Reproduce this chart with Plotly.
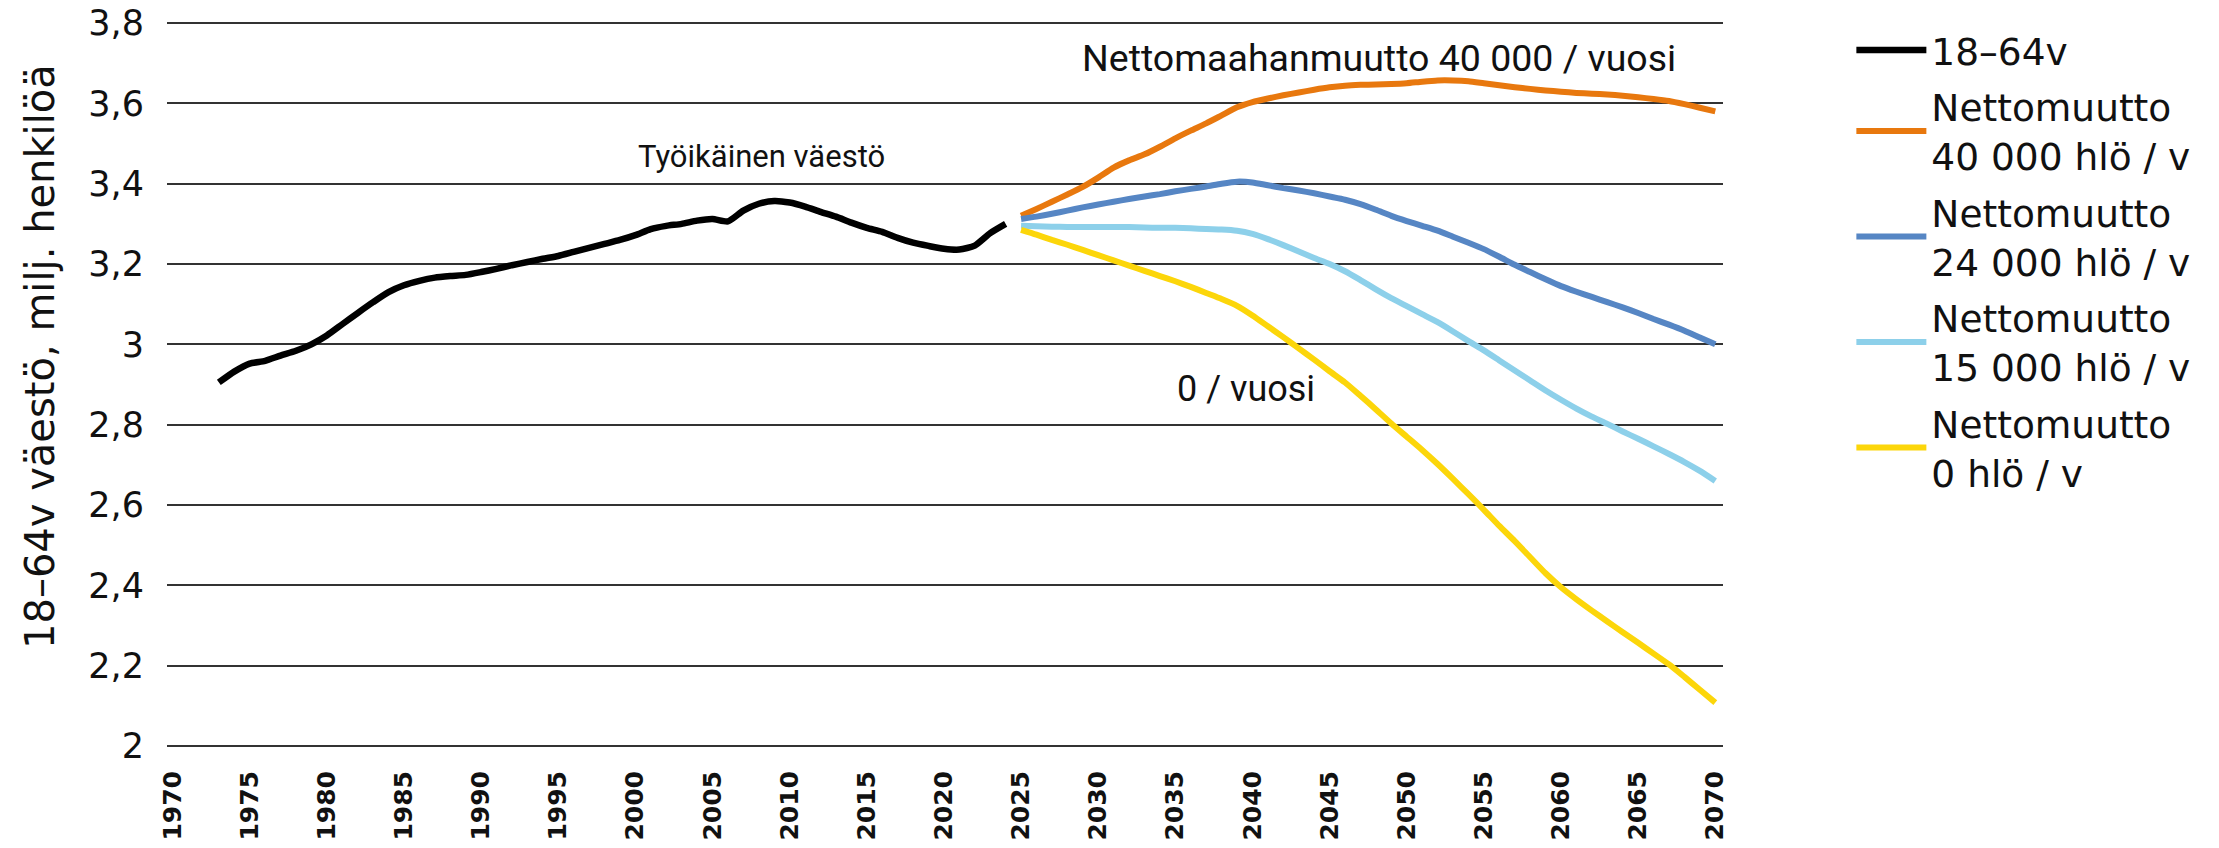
import plotly.graph_objects as go

hist_years = list(range(1973, 2025))
hist_vals = [2.905, 2.932, 2.952, 2.959, 2.972, 2.984, 3.000, 3.022, 3.050, 3.078,
             3.105, 3.130, 3.147, 3.158, 3.166, 3.170, 3.173, 3.180, 3.188, 3.197,
             3.205, 3.213, 3.220, 3.230, 3.240, 3.250, 3.260, 3.272, 3.287, 3.295,
             3.300, 3.308, 3.312, 3.306, 3.333, 3.350, 3.357, 3.353, 3.343, 3.330,
             3.318, 3.303, 3.290, 3.280, 3.265, 3.253, 3.245, 3.238, 3.236, 3.246,
             3.277, 3.300]

proj_years = list(range(2025, 2071))
net40000 = [3.320, 3.337, 3.355, 3.373, 3.392, 3.415, 3.440, 3.458, 3.473, 3.492,
            3.513, 3.532, 3.550, 3.570, 3.590, 3.603, 3.612, 3.620, 3.627, 3.634,
            3.640, 3.644, 3.646, 3.647, 3.648, 3.650, 3.654, 3.657, 3.657, 3.655,
            3.650, 3.645, 3.640, 3.636, 3.632, 3.629, 3.626, 3.624, 3.622, 3.619,
            3.615, 3.611, 3.606, 3.598, 3.589, 3.580]
net24000 = [3.312, 3.318, 3.325, 3.333, 3.341, 3.348, 3.355, 3.362, 3.368, 3.374,
            3.381, 3.387, 3.393, 3.400, 3.405, 3.403, 3.396, 3.389, 3.383, 3.376,
            3.368, 3.360, 3.349, 3.335, 3.320, 3.307, 3.295, 3.283, 3.268, 3.253,
            3.237, 3.218, 3.198, 3.180, 3.162, 3.145, 3.131, 3.118, 3.105, 3.092,
            3.078, 3.063, 3.049, 3.034, 3.017, 3.000]
net15000 = [3.295, 3.294, 3.293, 3.292, 3.292, 3.292, 3.292, 3.292, 3.291, 3.290,
            3.290, 3.289, 3.287, 3.286, 3.283, 3.275, 3.262, 3.247, 3.231, 3.215,
            3.200, 3.182, 3.160, 3.137, 3.115, 3.095, 3.075, 3.055, 3.032, 3.008,
            2.985, 2.960, 2.935, 2.910, 2.885, 2.862, 2.840, 2.820, 2.802, 2.783,
            2.765, 2.746, 2.727, 2.707, 2.685, 2.660]
net0 = [3.285, 3.273, 3.260, 3.248, 3.235, 3.222, 3.209, 3.196, 3.183, 3.170,
        3.157, 3.143, 3.128, 3.113, 3.096, 3.072, 3.045, 3.018, 2.990, 2.962,
        2.933, 2.905, 2.872, 2.838, 2.803, 2.770, 2.737, 2.702, 2.665, 2.627,
        2.588, 2.548, 2.510, 2.470, 2.430, 2.395, 2.365, 2.337, 2.310, 2.283,
        2.257, 2.230, 2.203, 2.172, 2.140, 2.108]

series_names = ["18\u201364v",
                "Nettomuutto<br>40 000 hlö / v",
                "Nettomuutto<br>24 000 hlö / v",
                "Nettomuutto<br>15 000 hlö / v",
                "Nettomuutto<br>0 hlö / v"]
colors = ["#000000", "#E8780E", "#5686C4", "#8DD0EA", "#FCD60A"]

x_ticks = list(range(1970, 2071, 5))
y_ticks = [2.0, 2.2, 2.4, 2.6, 2.8, 3.0, 3.2, 3.4, 3.6, 3.8]
y_ticktext = ["2", "2,2", "2,4", "2,6", "2,8", "3", "3,2", "3,4", "3,6", "3,8"]

y_title = "18\u201364v väestö, milj. henkilöä"
annotations_text = ["Työikäinen väestö", "Nettomaahanmuutto 40 000 / vuosi", "0 / vuosi"]
annotations_x = [2008.2, 2048.2, 2039.6]
annotations_y = [3.468, 3.714, 2.888]
annotations_size = [31, 37.5, 36]

W, H = 2219, 848
ML, MR, MT, MB = 167, 496, 19, 98

fig = go.Figure()
fig.add_trace(go.Scatter(x=hist_years, y=hist_vals, mode="lines", name=series_names[0],
                         legendgroup="g0",
                         line=dict(color=colors[0], width=6.5, shape="spline", smoothing=0.6)))
for i, (name, col, vals) in enumerate(zip(series_names[1:], colors[1:],
                                          [net40000, net24000, net15000, net0])):
    fig.add_trace(go.Scatter(x=proj_years, y=vals, mode="lines", name=name,
                             legendgroup="g%d" % (i + 1),
                             line=dict(color=col, width=6, shape="spline", smoothing=0.6)))

fig.update_layout(
    width=W, height=H,
    margin=dict(l=ML, r=MR, t=MT, b=MB),
    paper_bgcolor="white", plot_bgcolor="white",
    font=dict(family="DejaVu Sans", color="#111111"),
    showlegend=True,
    legend=dict(x=1.0825, y=1.0, xanchor="left", yanchor="top",
                font=dict(family="DejaVu Sans", size=37.5, color="#111111"),
                itemwidth=70, tracegroupgap=5, bgcolor="rgba(0,0,0,0)"),
    xaxis=dict(range=[1969.64, 2070.5], tickvals=x_ticks, ticktext=[str(t) for t in x_ticks],
               tickangle=-90, showgrid=False, zeroline=False, showline=False,
               tickfont=dict(family="DejaVu Sans", size=25, color="#111111", weight="bold"),
               ticks="", ticklabelstandoff=15, automargin=False),
    yaxis=dict(range=[1.99, 3.81], tickvals=y_ticks, ticktext=y_ticktext,
               showgrid=True, gridcolor="#333333", gridwidth=2, zeroline=False,
               showline=False, ticks="", ticklabelstandoff=22, automargin=False,
               tickfont=dict(family="DejaVu Sans", size=35, color="#111111")),
)

# y-axis title placed as a rotated annotation (pixel position converted to paper units)
fig.add_annotation(x=(40 - ML) / (W - ML - MR), y=1 - (357 - MT) / (H - MT - MB),
                   xref="paper", yref="paper", text=y_title,
                   textangle=-90, showarrow=False,
                   font=dict(family="DejaVu Sans", size=40, color="#111111"),
                   xanchor="center", yanchor="middle")

for t, ax_, ay_, s in zip(annotations_text, annotations_x, annotations_y, annotations_size):
    fig.add_annotation(x=ax_, y=ay_, text=t, showarrow=False,
                       font=dict(family="Roboto", size=s, color="#111111"),
                       xanchor="center", yanchor="middle")

fig.write_html("out.html", config={"displayModeBar": False},
               post_script="document.body.style.margin='0';")
